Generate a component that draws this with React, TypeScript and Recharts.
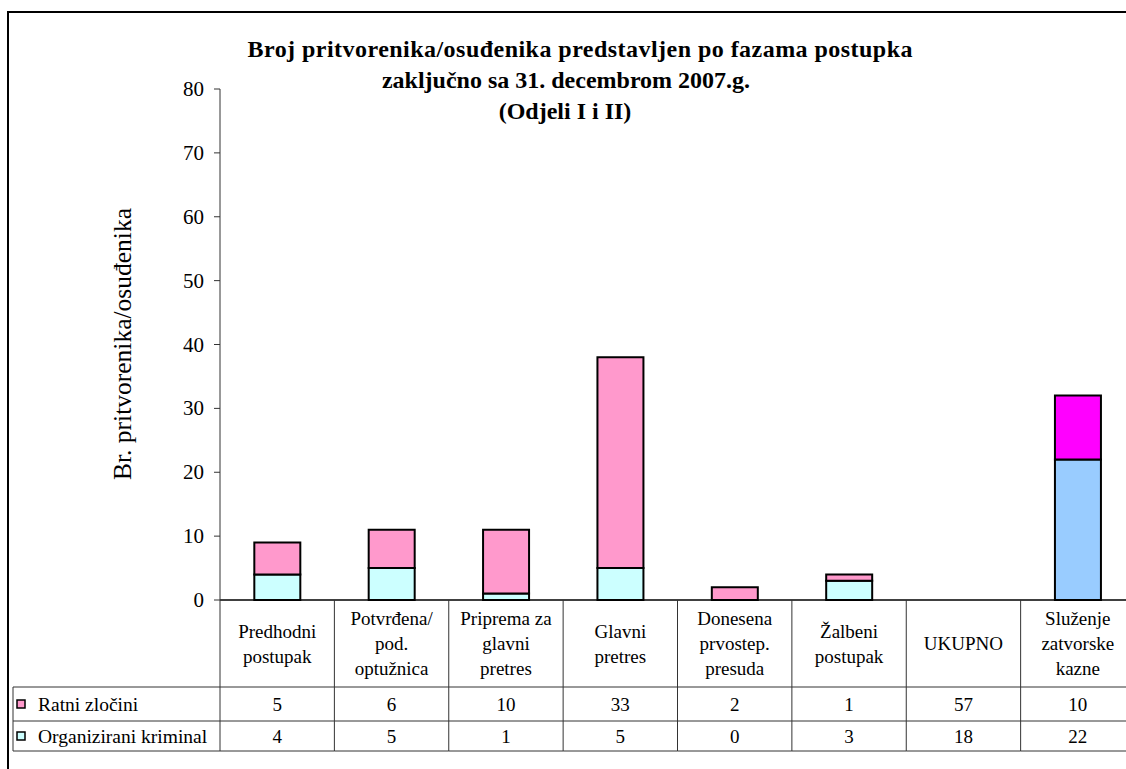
import { BarChart, Bar, XAxis, YAxis, Cell } from 'recharts';

const categories = [
  'Predhodni\npostupak',
  'Potvrđena/\npod.\noptužnica',
  'Priprema za\nglavni\npretres',
  'Glavni\npretres',
  'Donesena\nprvostep.\npresuda',
  'Žalbeni\npostupak',
  'UKUPNO',
  'Služenje\nzatvorske\nkazne',
];
const ratniZlocini = [5, 6, 10, 33, 2, 1, 57, 10];
const organiziraniKriminal = [4, 5, 1, 5, 0, 3, 18, 22];
const yTicks = [0, 10, 20, 30, 40, 50, 60, 70, 80];
const seriesNames = ['Ratni zločini', 'Organizirani kriminal'];
const titleLines = [
  'Broj pritvorenika/osuđenika predstavljen po fazama postupka',
  'zaključno sa 31. decembrom 2007.g.',
  '(Odjeli I i II)',
];
const yLabel = 'Br. pritvorenika/osuđenika';

// the total column is only listed in the table, not drawn as a bar
const TOTAL = 'UKUPNO';
const SERVING = 'Služenje\nzatvorske\nkazne';

const data = categories.map((category, i) => ({
  category,
  ratni: category === TOTAL ? null : ratniZlocini[i],
  organizirani: category === TOTAL ? null : organiziraniKriminal[i],
  tRatni: ratniZlocini[i],
  tOrg: organiziraniKriminal[i],
}));

const FONT = '"Liberation Serif", "Times New Roman", serif';
const CHART_W = 1140;
const CHART_H = 769;
const MARGIN = { top: 89, right: 5, bottom: 0, left: 24 };
const Y_AXIS_W = 196;
const PLOT_LEFT = MARGIN.left + Y_AXIS_W;
const PLOT_BOTTOM = 600;
const BAND = (CHART_W - MARGIN.right - PLOT_LEFT) / categories.length;
const HEADER_H = 87;
const ROW_H = [34, 30];
const TABLE_LEFT = 13;
const LINE = '#333';

const pink = '#FF99CC';
const cyan = '#CCFFFF';

const txt = (size: number, bold = false) => ({
  fontFamily: FONT,
  fontSize: size,
  fontWeight: bold ? 'bold' : 'normal',
  fill: '#000',
});

function TableTick(props: any) {
  const { x, payload } = props;
  const index = payload.index;
  const row = data[index];
  const left = x - BAND / 2;
  const right = x + BAND / 2;
  const y0 = PLOT_BOTTOM;
  const y1 = y0 + HEADER_H;
  const y2 = y1 + ROW_H[0];
  const y3 = y2 + ROW_H[1];
  const lines = String(payload.value).split('\n');
  const mid = (y0 + y1) / 2;
  const lh = 25;
  return (
    <g>
      <line x1={right} x2={right} y1={y0} y2={y3} stroke={LINE} />
      {index === 0 && <line x1={left} x2={left} y1={y0} y2={y3} stroke={LINE} />}
      <line x1={left} x2={right} y1={y1} y2={y1} stroke={LINE} />
      <line x1={left} x2={right} y1={y2} y2={y2} stroke={LINE} />
      <line x1={left} x2={right} y1={y3} y2={y3} stroke={LINE} />
      {lines.map((l, k) => (
        <text
          key={k}
          x={x}
          y={mid + (k - (lines.length - 1) / 2) * lh}
          textAnchor="middle"
          dominantBaseline="central"
          style={txt(19)}
        >
          {l}
        </text>
      ))}
      <text x={x} y={(y1 + y2) / 2} textAnchor="middle" dominantBaseline="central" style={txt(19)}>
        {row.tRatni}
      </text>
      <text x={x} y={(y2 + y3) / 2} textAnchor="middle" dominantBaseline="central" style={txt(19)}>
        {row.tOrg}
      </text>
      {index === 0 && (
        <g>
          <line x1={TABLE_LEFT} x2={left} y1={y1} y2={y1} stroke={LINE} />
          <line x1={TABLE_LEFT} x2={left} y1={y2} y2={y2} stroke={LINE} />
          <line x1={TABLE_LEFT} x2={left} y1={y3} y2={y3} stroke={LINE} />
          <line x1={TABLE_LEFT} x2={TABLE_LEFT} y1={y1} y2={y3} stroke={LINE} />
          <rect x={17} y={(y1 + y2) / 2 - 4} width={8} height={8} fill={pink} stroke="#000" strokeWidth={1.5} />
          <rect x={17} y={(y2 + y3) / 2 - 4} width={8} height={8} fill={cyan} stroke="#000" strokeWidth={1.5} />
          <text x={38} y={(y1 + y2) / 2} dominantBaseline="central" style={txt(19.5)}>
            {seriesNames[0]}
          </text>
          <text x={38} y={(y2 + y3) / 2} dominantBaseline="central" style={txt(19.5)}>
            {seriesNames[1]}
          </text>
        </g>
      )}
    </g>
  );
}

function YTick(props: any) {
  const { x, y, payload } = props;
  return (
    <text x={x} y={y} textAnchor="end" dominantBaseline="central" style={txt(21)}>
      {payload.value}
    </text>
  );
}

export default function App() {
  return (
    <div style={{ position: 'relative', width: 1126, height: 769, overflow: 'hidden', background: '#fff' }}>
      <style>{'body{margin:0}'}</style>
      <div
        style={{
          position: 'absolute',
          left: 7,
          top: 11,
          width: 1200,
          height: 800,
          borderLeft: '2px solid #000',
          borderTop: '2px solid #000',
        }}
      />
      <div style={{ position: 'absolute', left: 0, top: 0 }}>
        <BarChart width={CHART_W} height={CHART_H} data={data} margin={MARGIN} barCategoryGap="30%">
          <XAxis
            dataKey="category"
            interval={0}
            height={CHART_H - PLOT_BOTTOM}
            tickLine={false}
            tickSize={0}
            tickMargin={0}
            axisLine={{ stroke: '#000', strokeWidth: 1.5 }}
            tick={<TableTick />}
          />
          <YAxis
            width={Y_AXIS_W}
            domain={[0, 80]}
            ticks={yTicks}
            interval={0}
            tickSize={6}
            tickMargin={10}
            axisLine={{ stroke: LINE }}
            tickLine={{ stroke: LINE }}
            tick={<YTick />}
          />
          <Bar dataKey="organizirani" stackId="a" stroke="#000" strokeWidth={2} isAnimationActive={false}>
            {data.map((d) => (
              <Cell key={d.category} fill={d.category === SERVING ? '#99CCFF' : cyan} />
            ))}
          </Bar>
          <Bar dataKey="ratni" stackId="a" stroke="#000" strokeWidth={2} isAnimationActive={false}>
            {data.map((d) => (
              <Cell key={d.category} fill={d.category === SERVING ? '#FF00FF' : pink} />
            ))}
          </Bar>
        </BarChart>
      </div>
      <svg style={{ position: 'absolute', left: 0, top: 0 }} width={1126} height={500}>
        <text x={580} y={57} textAnchor="middle" textLength={665} lengthAdjust="spacing" style={txt(24, true)}>
          {titleLines[0]}
        </text>
        <text x={566} y={88} textAnchor="middle" style={txt(24, true)}>
          {titleLines[1]}
        </text>
        <text x={565} y={119} textAnchor="middle" style={txt(24, true)}>
          {titleLines[2]}
        </text>
        <text
          transform="translate(122, 344) rotate(-90)"
          textAnchor="middle"
          dominantBaseline="central"
          style={txt(25.5)}
        >
          {yLabel}
        </text>
      </svg>
    </div>
  );
}
